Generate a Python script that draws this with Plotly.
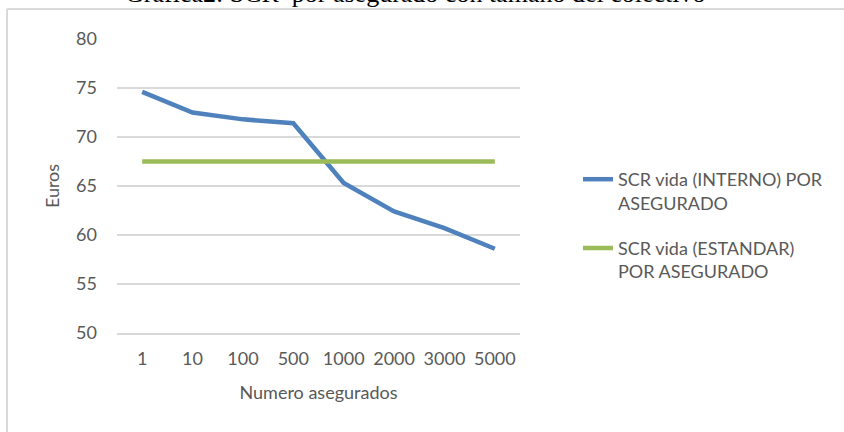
import plotly.graph_objects as go

categories = ["1", "10", "100", "500", "1000", "2000", "3000", "5000"]
scr_interno = [74.6, 72.5, 71.8, 71.4, 65.3, 62.4, 60.7, 58.6]
scr_estandar = [67.5, 67.5, 67.5, 67.5, 67.5, 67.5, 67.5, 67.5]
series_names = ["SCR vida (INTERNO) POR<br>ASEGURADO", "SCR vida (ESTANDAR)<br>POR ASEGURADO"]
y_ticks = [50, 55, 60, 65, 70, 75, 80]

W, H = 844, 432
L, R, T, B = 117, 520, 39, 333

def px_x(p):
    return (p - L) / (R - L)

def px_y(p):
    return (B - p) / (B - T)

font_main = "Lato, Carlito, Calibri, sans-serif"
txt = "#595959"
grid = "#D9D9D9"

fig = go.Figure()
fig.add_trace(go.Scatter(x=categories, y=scr_interno, mode="lines", name=series_names[0],
                         line=dict(color="#4F81BD", width=4.5), legendgroup="a"))
fig.add_trace(go.Scatter(x=categories, y=scr_estandar, mode="lines", name=series_names[1],
                         line=dict(color="#9BBB59", width=4.5), legendgroup="b"))

fig.update_layout(
    width=W, height=H,
    margin=dict(l=L, r=W - R, t=T, b=H - B),
    paper_bgcolor="white", plot_bgcolor="white",
    font=dict(family=font_main, size=18, color=txt),
    showlegend=True,
    legend=dict(x=px_x(578), y=px_y(161), xanchor="left", yanchor="top",
                valign="top", tracegroupgap=19, font=dict(size=18, color=txt),
                bgcolor="rgba(0,0,0,0)"),
    xaxis=dict(type="category", showgrid=False, showline=True, linecolor=grid, linewidth=2,
               ticks="", ticklabelstandoff=8,
               title=dict(text="Numero asegurados", font=dict(size=18, color=txt), standoff=19),
               range=[-0.5, 7.5]),
    yaxis=dict(range=[50, 80], tickvals=y_ticks, showgrid=True, gridcolor=grid, gridwidth=2,
               zeroline=False, showline=False, ticks="", ticklabelstandoff=19,
               title=dict(text="Euros", font=dict(size=18, color=txt), standoff=11)),
)

# chart frame (partially visible)
fig.add_shape(type="line", xref="paper", yref="paper", x0=px_x(7), x1=px_x(W + 5),
              y0=px_y(9), y1=px_y(9), line=dict(color=grid, width=2))
fig.add_shape(type="line", xref="paper", yref="paper", x0=px_x(7), x1=px_x(7),
              y0=px_y(9), y1=px_y(H + 5), line=dict(color=grid, width=2))

# title above frame, cut by page edge as in the reference
fig.add_annotation(text="Gráfica2: SCR  por asegurado con tamaño del colectivo",
                   xref="paper", yref="paper", x=px_x(415), y=px_y(10),
                   xanchor="center", yanchor="bottom", showarrow=False,
                   font=dict(family="Liberation Serif, Times New Roman, serif", size=26, color="black"))

fig.write_html("out.html", config={"displayModeBar": False},
               post_script="document.body.style.margin='0';")
